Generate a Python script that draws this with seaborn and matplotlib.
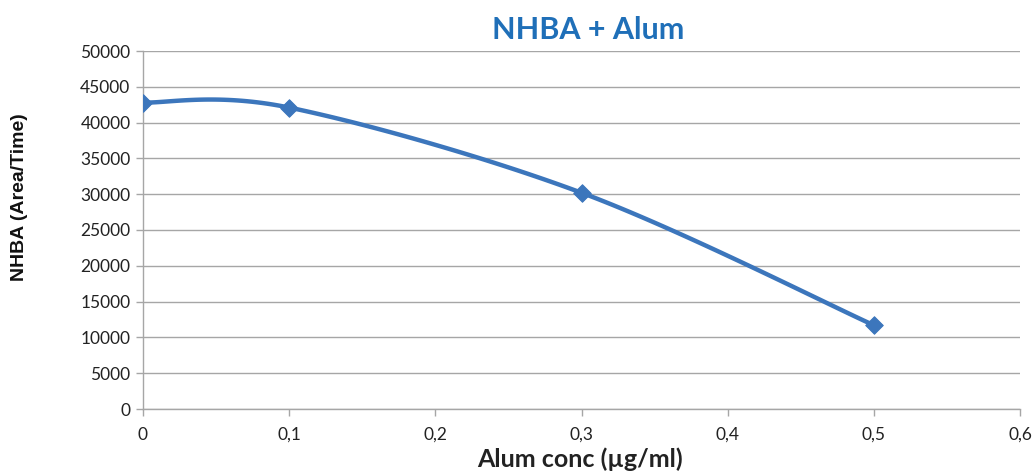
import numpy as np
import pandas as pd
import matplotlib
matplotlib.use("Agg")
import matplotlib.pyplot as plt
import seaborn as sns

# Data
conc = [0.0, 0.1, 0.3, 0.5]
nhba = [42800, 42100, 30200, 11700]
x_ticks = [0, 0.1, 0.2, 0.3, 0.4, 0.5, 0.6]
x_tick_labels = ["0", "0,1", "0,2", "0,3", "0,4", "0,5", "0,6"]
y_ticks = list(range(0, 50001, 5000))
title = "NHBA + Alum"
xlabel = "Alum conc (µg/ml)"
ylabel = "NHBA (Area/Time)"

sns.set_theme(style="white")
plt.rcParams["font.family"] = ["Lato", "DejaVu Sans"]

LINE = "#3C76BC"
GRID = "#A6A6A6"

def excel_smooth(xs, ys, n=40):
    P = np.column_stack([xs, ys]).astype(float)
    ext = np.vstack([P[0], P, P[-1]])
    out = []
    for i in range(len(P) - 1):
        p0, p1 = ext[i + 1], ext[i + 2]
        c1 = p0 + (ext[i + 2] - ext[i]) / 6.0
        c2 = p1 - (ext[i + 3] - ext[i + 1]) / 6.0
        t = np.linspace(0, 1, n)[:, None]
        seg = ((1 - t) ** 3) * p0 + 3 * ((1 - t) ** 2) * t * c1 + 3 * (1 - t) * t ** 2 * c2 + t ** 3 * p1
        out.append(seg if i == 0 else seg[1:])
    return np.vstack(out)

curve = excel_smooth(conc, nhba)
curve_df = pd.DataFrame({"x": curve[:, 0], "y": curve[:, 1], "order": np.arange(len(curve))})
pts_df = pd.DataFrame({"x": conc, "y": nhba})

fig = plt.figure(figsize=(10.34, 4.72), dpi=100)
ax = fig.add_axes([143 / 1034, 1 - 409 / 472, (1020 - 143) / 1034, (409 - 51) / 472])

sns.lineplot(data=curve_df, x="x", y="y", sort=False, ax=ax, color=LINE, linewidth=3.2, zorder=3)
sns.scatterplot(data=pts_df, x="x", y="y", ax=ax, marker="D", s=80, color=LINE, edgecolor=LINE, zorder=4)

ax.set_xlim(0, 0.6)
ax.set_ylim(0, 50000)
ax.set_xticks(x_ticks)
ax.set_xticklabels(x_tick_labels)
ax.set_yticks(y_ticks)
ax.set_yticklabels([str(v) for v in y_ticks])
ax.yaxis.grid(True, color=GRID, linewidth=1)
ax.xaxis.grid(False)
for s in ["top", "right"]:
    ax.spines[s].set_visible(False)
for s in ["left", "bottom"]:
    ax.spines[s].set_color(GRID)
    ax.spines[s].set_linewidth(1)
ax.tick_params(axis="both", which="both", length=5, width=1, color=GRID, direction="out",
               labelsize=12.5, labelcolor="#222222", bottom=True, left=True)
ax.tick_params(axis="x", pad=8)
ax.tick_params(axis="y", pad=4)

ax.set_xlabel(xlabel, fontsize=18, fontweight="bold", color="#222222")
ax.set_ylabel(ylabel, fontsize=14, fontweight="bold", color="#111111",
              family=["Liberation Sans", "DejaVu Sans"])
ax.xaxis.set_label_coords((580 - 143) / 877, (409 - 459) / 358)
ax.yaxis.set_label_coords((20 - 143) / 877, (409 - 197) / 358)
ax.xaxis.label.set_va("center")
ax.yaxis.label.set_va("center")
fig.text(588 / 1034, 1 - 30 / 472, title, ha="center", va="center", fontsize=22,
         fontweight="bold", color="#1F6FB8")

fig.savefig("out.png", dpi=100)
